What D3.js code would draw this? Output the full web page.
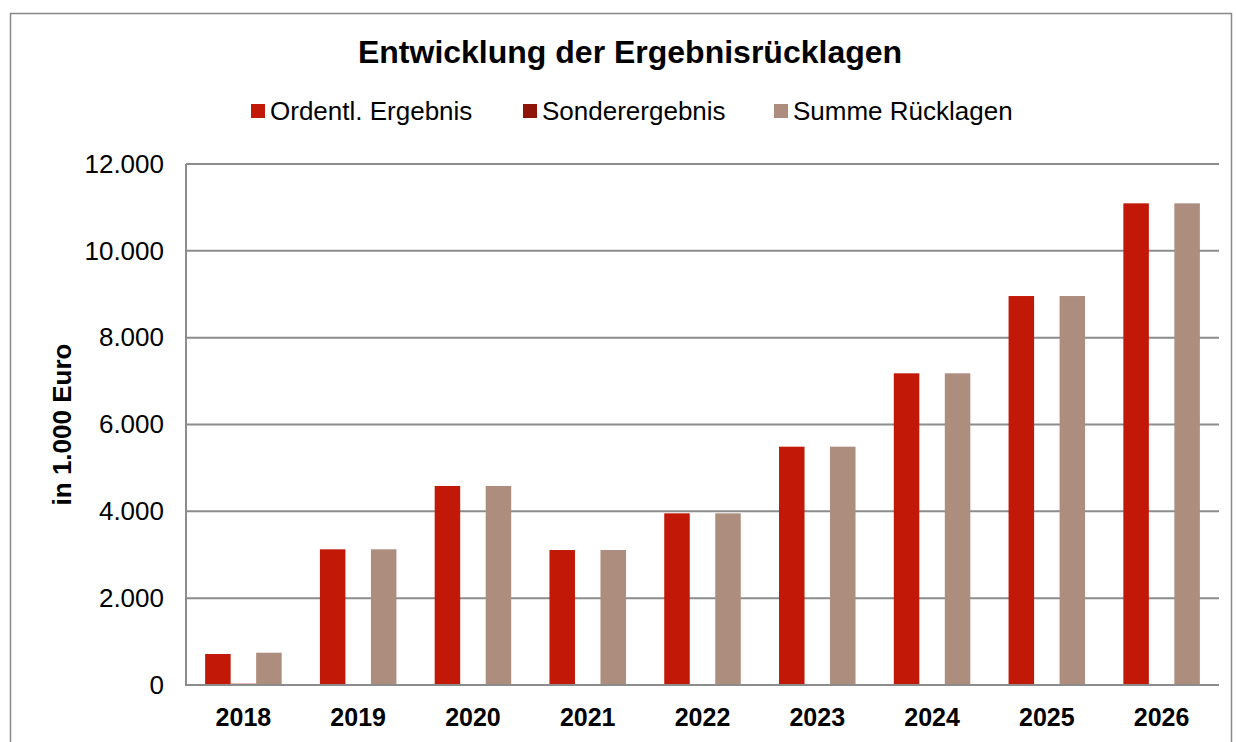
<!DOCTYPE html>
<html lang="de">
<head>
<meta charset="UTF-8">
<title>Entwicklung der Ergebnisrücklagen</title>
<script src="https://cdn.jsdelivr.net/npm/d3@7"></script>
<style>
  body { margin: 0; background: #fff; font-family: "Liberation Sans", Arial, sans-serif; }
  #yAxis text { font-size: 26px; fill: #000; }
  #xAxis text { font-size: 25px; font-weight: bold; fill: #000; }
</style>
</head>
<body>
<svg id="chart" width="1236" height="742"></svg>
<script>
// data
let years = ["2018", "2019", "2020", "2021", "2022", "2023", "2024", "2025", "2026"]
let ordentl = [714, 3125, 4584, 3109, 3954, 5489, 7179, 8959, 11094]
let sonder = [30, 0, 0, 0, 0, 0, 0, 0, 0]
let summe = [744, 3125, 4584, 3109, 3954, 5489, 7179, 8959, 11094]
let seriesNames = ["Ordentl. Ergebnis", "Sonderergebnis", "Summe Rücklagen"]
let colors = ["#C21807", "#8E1409", "#AC8D7E"]
let yTicks = [0, 2000, 4000, 6000, 8000, 10000, 12000]

let svg = d3.select("#chart")

// outer frame
svg.append("rect")
  .attr("x", 10.5).attr("y", 13.5)
  .attr("width", 1221).attr("height", 760)
  .attr("fill", "none").attr("stroke", "#888").attr("stroke-width", 1.5)

let pLeft = 186, pRight = 1219, pTop = 164, pBottom = 685

let x = d3.scaleBand().domain(years).range([pLeft, pRight])
let bw = x.bandwidth() / (3 + 1.5)
let y = d3.scaleLinear().domain([0, 12000]).range([pBottom, pTop])

let de = d3.formatLocale({ decimal: ",", thousands: ".", grouping: [3], currency: ["", " €"] })
let fmt = de.format(",d")

// gridlines
svg.append("g").selectAll("line")
  .data(yTicks.filter(d => d > 0))
  .join("line")
  .attr("x1", pLeft).attr("x2", pRight)
  .attr("y1", d => y(d)).attr("y2", d => y(d))
  .attr("stroke", "#8c8c8c").attr("stroke-width", 2)

// bars
let table = years.map((yr, i) => ({ year: yr, vals: [ordentl[i], sonder[i], summe[i]] }))
let groups = svg.append("g").selectAll("g")
  .data(table)
  .join("g")
  .attr("transform", d => `translate(${x(d.year) + bw * 0.75},0)`)

groups.selectAll("rect")
  .data(d => d.vals.map((v, k) => ({ v, k })))
  .join("rect")
  .attr("x", d => d.k * bw)
  .attr("width", bw)
  .attr("y", d => y(d.v))
  .attr("height", d => y(0) - y(d.v))
  .attr("fill", d => colors[d.k])

// axes
let yAxis = d3.axisLeft(y).tickValues(yTicks).tickFormat(fmt).tickSize(0).tickPadding(22)
svg.append("g").attr("id", "yAxis")
  .attr("transform", `translate(${pLeft},0)`)
  .call(yAxis)
  .call(g => g.select(".domain").remove())

svg.append("line")
  .attr("x1", pLeft).attr("x2", pLeft).attr("y1", pTop).attr("y2", pBottom)
  .attr("stroke", "#8c8c8c").attr("stroke-width", 2)

let xAxis = d3.axisBottom(x).tickSize(0).tickPadding(23)
svg.append("g").attr("id", "xAxis")
  .attr("transform", `translate(0,${pBottom})`)
  .call(xAxis)
  .call(g => g.select(".domain").remove())

svg.append("line")
  .attr("x1", pLeft - 1).attr("x2", pRight).attr("y1", pBottom).attr("y2", pBottom)
  .attr("stroke", "#8c8c8c").attr("stroke-width", 2)

// y label
svg.append("text")
  .attr("transform", `translate(71,${(pTop + pBottom) / 2}) rotate(-90)`)
  .attr("text-anchor", "middle")
  .style("font-size", "26px").style("font-weight", "bold")
  .text("in 1.000 Euro")

// title
svg.append("text")
  .attr("x", 630).attr("y", 63)
  .attr("text-anchor", "middle")
  .style("font-size", "32px").style("font-weight", "bold")
  .text("Entwicklung der Ergebnisrücklagen")

// legend
let legendX = [251, 523, 774]
let legend = svg.append("g").selectAll("g")
  .data(seriesNames)
  .join("g")
  .attr("transform", (d, i) => `translate(${legendX[i]},111)`)
legend.append("rect")
  .attr("x", 0).attr("y", -7).attr("width", 14).attr("height", 14)
  .attr("fill", (d, i) => colors[i])
legend.append("text")
  .attr("x", 19).attr("y", 9)
  .style("font-size", "26px")
  .text(d => d)
</script>
</body>
</html>
